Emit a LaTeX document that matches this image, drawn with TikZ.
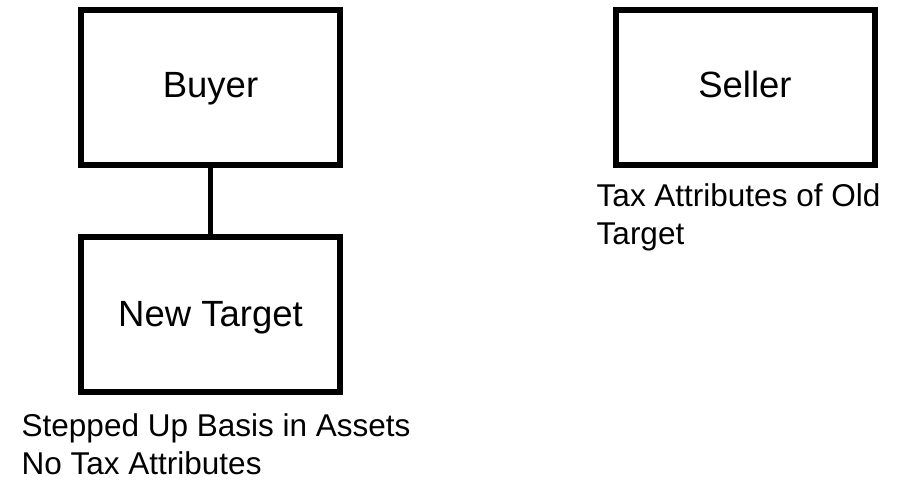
\documentclass[tikz,border=0pt]{standalone}
\usepackage{fontspec}
\setmainfont{Liberation Sans}
\begin{document}
\begin{tikzpicture}[x=1pt,y=-1pt,
  entity/.style={draw=black, line width=6pt, minimum width=259pt, minimum height=155pt,
    inner sep=0pt, font=\fontsize{36.5}{44}\selectfont, text height=27pt, text depth=7pt},
  note/.style={anchor=north west, align=left, inner sep=0pt,
    font=\fontsize{31.5}{38}\selectfont},
  link/.style={draw=black, line width=4.5pt}]
  \useasboundingbox[fill=white] (0,0) rectangle (909,490);
  % ownership boxes
  \node[entity] (buyer)  at (210.5,87.5) {Buyer};
  \node[entity, text depth=2pt] (target) at (210.5,314) {New Target};
  \node[entity] (seller) at (745,87)     {Seller};
  % buyer owns the new target
  \draw[link] (buyer.south) -- (target.north);
  % tax consequences
  \node[note] (sellernote) at (596.5,183) {Tax Attributes of Old\\Target};
  \node[note] (targetnote) at (21.5,413.5) {Stepped Up Basis in Assets\\No Tax Attributes};
\end{tikzpicture}
\end{document}
